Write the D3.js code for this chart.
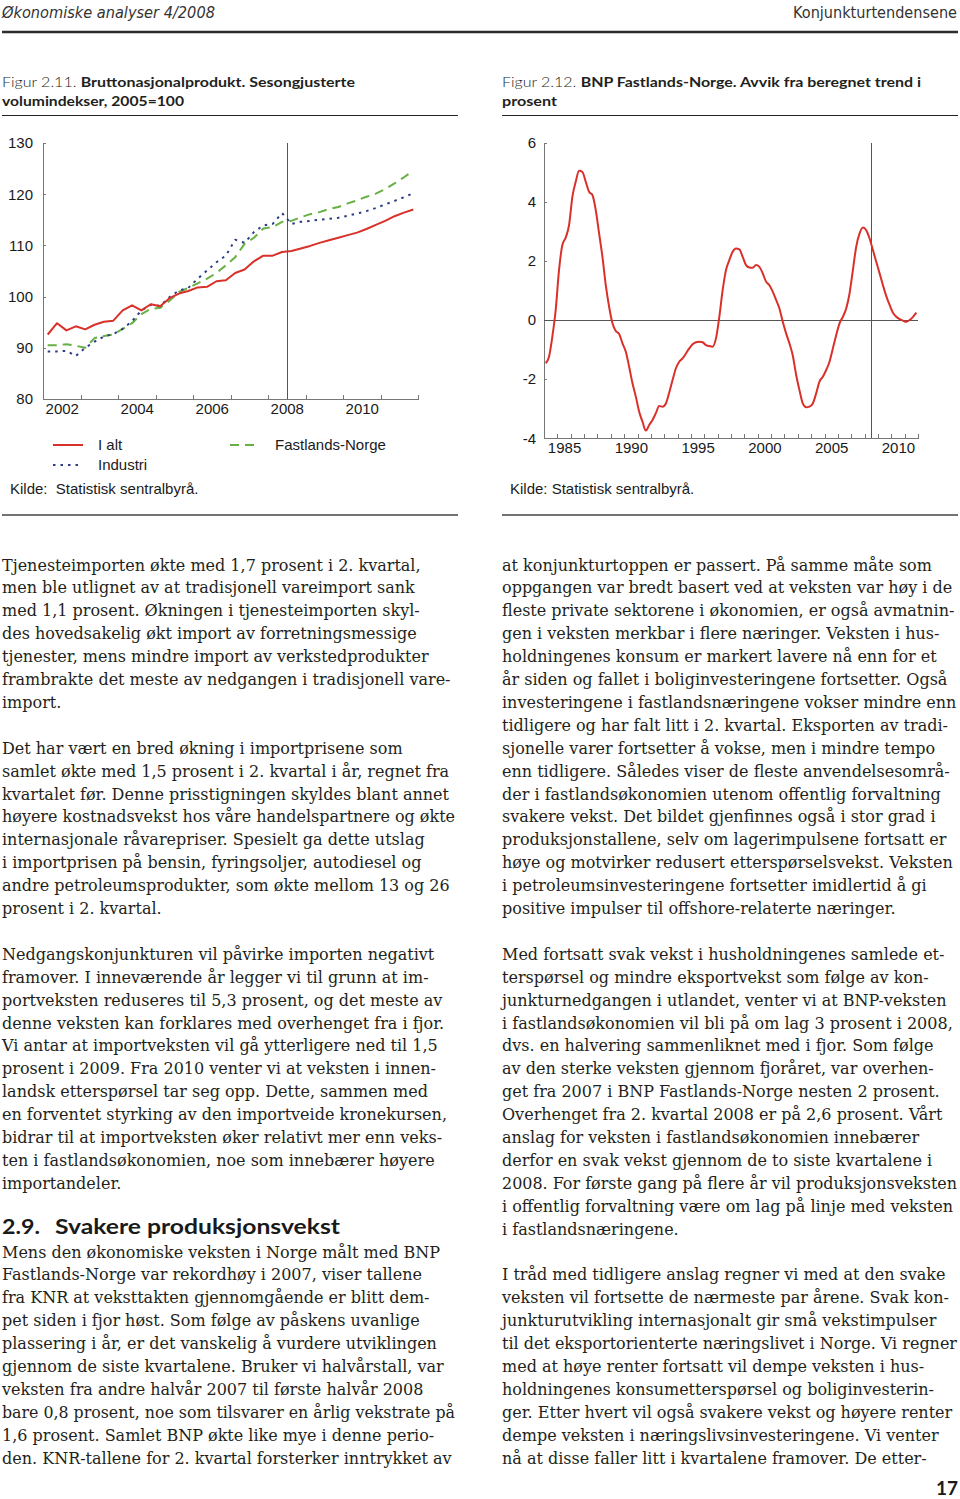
<!DOCTYPE html>
<html lang="no">
	<head>
		<meta charset="utf-8">
		<title>Konjunkturtendensene</title>
		<style>
			body {
				margin: 0;
				background: #fff;
			}

			.body-text {
				font-family: 'DejaVu Serif', serif;
				fill: #231f20;
			}

			.running-head {
				font-family: 'DejaVu Sans Condensed', 'Open Sans', sans-serif;
				font-size: 16px;
				fill: #333;
			}

			.fig-title {
				font-family: Lato, 'Open Sans', sans-serif;
				font-size: 14px;
				fill: #231f20;
			}

			.axis path,
			.axis line {
				stroke: #777;
				shape-rendering: crispEdges;
			}

			.axis text,
			.legend text,
			.source {
				font-family: 'Liberation Sans', Arial, sans-serif;
				font-size: 15px;
				fill: #1a1a1a;
			}

			.guide {
				stroke: #555;
				shape-rendering: crispEdges;
			}

			.series {
				fill: none;
				stroke-width: 2px;
				stroke-linejoin: round;
			}
		</style>
	</head>
	<body>
		<div id="page"></div>

		<script src="https://cdnjs.cloudflare.com/ajax/libs/d3/7.8.5/d3.min.js"></script>
		<script>
			// Figur 2.11 - quarterly volume indices, 2005=100, 2002K1-2011K4
			var indexStart = 2002;
			var indexAlt = [92.6, 94.8, 93.4, 94.2, 93.6, 94.5, 95.1, 95.3, 97.3, 98.3,
			                97.3, 98.5, 98.1, 99.7, 100.6, 101.1, 101.8, 101.9, 103.0, 103.2,
			                104.6, 105.3, 106.9, 108.0, 108.0, 108.7, 108.9, 109.4, 109.9, 110.5,
			                111.0, 111.5, 112.0, 112.5, 113.2, 114.0, 114.8, 115.7, 116.4, 117.0];
			var indexFastland = [90.5, 90.5, 90.7, 90.4, 90.0, 91.9, 92.3, 92.6, 93.7, 94.8,
			                     96.6, 97.6, 97.8, 99.2, 100.9, 101.7, 102.6, 103.5, 104.6, 106.1,
			                     107.7, 110.3, 111.5, 113.3, 113.6, 114.6, 114.8, 115.5, 116.1, 116.5,
			                     117.1, 117.5, 118.2, 118.8, 119.5, 120.1, 121.0, 122.1, 123.3, 124.6];
			var indexIndustri = [89.3, 89.3, 89.4, 88.4, 90.0, 91.2, 92.2, 92.7, 93.7, 95.2,
			                     97.3, 98.4, 98.2, 99.9, 101.2, 101.7, 103.5, 105.1, 106.7, 108.0,
			                     111.1, 110.5, 112.6, 113.9, 114.2, 116.3, 114.2, 114.6, 114.8, 115.0,
			                     115.2, 115.4, 115.8, 116.2, 116.7, 117.3, 118.0, 118.7, 119.4, 120.2];
			var indexTicks = [80, 90, 100, 110, 120, 130];
			var indexYearLabels = [2002, 2004, 2006, 2008, 2010];

			// Figur 2.12 - BNP Fastlands-Norge, deviation from trend in percent, 1984K1-2011K4
			var gapStart = 1984;
			var gapValues = [-1.46, -1.24, -0.56, 0.34, 1.69, 2.54, 2.79, 3.21, 4.17, 4.68,
			                 5.05, 5.01, 4.68, 4.34, 4.23, 3.72, 2.93, 2.14, 1.18, 0.45,
			                 -0.11, -0.37, -0.47, -0.79, -1.07, -1.58, -2.14, -2.59, -3.10, -3.44,
			                 -3.74, -3.55, -3.38, -3.15, -2.91, -2.93, -2.82, -2.45, -2.03, -1.63,
			                 -1.41, -1.30, -1.13, -0.96, -0.82, -0.75, -0.73, -0.75, -0.85, -0.88,
			                 -0.90, -0.62, 0.11, 1.01, 1.69, 2.03, 2.31, 2.42, 2.39, 2.14,
			                 1.86, 1.78, 1.77, 1.86, 1.80, 1.58, 1.30, 1.18, 0.96, 0.68,
			                 0.39, -0.06, -0.45, -0.79, -1.20, -1.85, -2.37, -2.82, -2.95, -2.93,
			                 -2.82, -2.48, -2.08, -1.92, -1.69, -1.41, -0.96, -0.51, -0.11, 0.11,
			                 0.39, 0.90, 1.69, 2.48, 2.93, 3.13, 3.04, 2.76, 2.37, 1.97,
			                 1.58, 1.18, 0.81, 0.51, 0.25, 0.11, 0.03, -0.02, -0.06, 0.00,
			                 0.11, 0.25];
			var gapTicks = [-4, -2, 0, 2, 4, 6];
			var gapYearLabels = [1985, 1990, 1995, 2000, 2005, 2010];

			var forecastFrom = 2008.5;

			// page text, one entry per printed line ('' = empty line)
			var col1Lines = [
				'Tjenesteimporten økte med 1,7 prosent i 2. kvartal,',
				'men ble utlignet av at tradisjonell vareimport sank',
				'med 1,1 prosent. Økningen i tjenesteimporten skyl-',
				'des hovedsakelig økt import av forretningsmessige',
				'tjenester, mens mindre import av verkstedprodukter',
				'frambrakte det meste av nedgangen i tradisjonell vare-',
				'import.',
				'',
				'Det har vært en bred økning i importprisene som',
				'samlet økte med 1,5 prosent i 2. kvartal i år, regnet fra',
				'kvartalet før. Denne prisstigningen skyldes blant annet',
				'høyere kostnadsvekst hos våre handelspartnere og økte',
				'internasjonale råvarepriser. Spesielt ga dette utslag',
				'i importprisen på bensin, fyringsoljer, autodiesel og',
				'andre petroleumsprodukter, som økte mellom 13 og 26',
				'prosent i 2. kvartal.',
				'',
				'Nedgangskonjunkturen vil påvirke importen negativt',
				'framover. I inneværende år legger vi til grunn at im-',
				'portveksten reduseres til 5,3 prosent, og det meste av',
				'denne veksten kan forklares med overhenget fra i fjor.',
				'Vi antar at importveksten vil gå ytterligere ned til 1,5',
				'prosent i 2009. Fra 2010 venter vi at veksten i innen-',
				'landsk etterspørsel tar seg opp. Dette, sammen med',
				'en forventet styrking av den importveide kronekursen,',
				'bidrar til at importveksten øker relativt mer enn veks-',
				'ten i fastlandsøkonomien, noe som innebærer høyere',
				'importandeler.',
				'',
				'',
				'Mens den økonomiske veksten i Norge målt med BNP',
				'Fastlands-Norge var rekordhøy i 2007, viser tallene',
				'fra KNR at veksttakten gjennomgående er blitt dem-',
				'pet siden i fjor høst. Som følge av påskens uvanlige',
				'plassering i år, er det vanskelig å vurdere utviklingen',
				'gjennom de siste kvartalene. Bruker vi halvårstall, var',
				'veksten fra andre halvår 2007 til første halvår 2008',
				'bare 0,8 prosent, noe som tilsvarer en årlig vekstrate på',
				'1,6 prosent. Samlet BNP økte like mye i denne perio-',
				'den. KNR-tallene for 2. kvartal forsterker inntrykket av'
			];
			var col2Lines = [
				'at konjunkturtoppen er passert. På samme måte som',
				'oppgangen var bredt basert ved at veksten var høy i de',
				'fleste private sektorene i økonomien, er også avmatnin-',
				'gen i veksten merkbar i flere næringer. Veksten i hus-',
				'holdningenes konsum er markert lavere nå enn for et',
				'år siden og fallet i boliginvesteringene fortsetter. Også',
				'investeringene i fastlandsnæringene vokser mindre enn',
				'tidligere og har falt litt i 2. kvartal. Eksporten av tradi-',
				'sjonelle varer fortsetter å vokse, men i mindre tempo',
				'enn tidligere. Således viser de fleste anvendelsesområ-',
				'der i fastlandsøkonomien utenom offentlig forvaltning',
				'svakere vekst. Det bildet gjenfinnes også i stor grad i',
				'produksjonstallene, selv om lagerimpulsene fortsatt er',
				'høye og motvirker redusert etterspørselsvekst. Veksten',
				'i petroleumsinvesteringene fortsetter imidlertid å gi',
				'positive impulser til offshore-relaterte næringer.',
				'',
				'Med fortsatt svak vekst i husholdningenes samlede et-',
				'terspørsel og mindre eksportvekst som følge av kon-',
				'junkturnedgangen i utlandet, venter vi at BNP-veksten',
				'i fastlandsøkonomien vil bli på om lag 3 prosent i 2008,',
				'dvs. en halvering sammenliknet med i fjor. Som følge',
				'av den sterke veksten gjennom fjoråret, var overhen-',
				'get fra 2007 i BNP Fastlands-Norge nesten 2 prosent.',
				'Overhenget fra 2. kvartal 2008 er på 2,6 prosent. Vårt',
				'anslag for veksten i fastlandsøkonomien innebærer',
				'derfor en svak vekst gjennom de to siste kvartalene i',
				'2008. For første gang på flere år vil produksjonsveksten',
				'i offentlig forvaltning være om lag på linje med veksten',
				'i fastlandsnæringene.',
				'',
				'I tråd med tidligere anslag regner vi med at den svake',
				'veksten vil fortsette de nærmeste par årene. Svak kon-',
				'junkturutvikling internasjonalt gir små vekstimpulser',
				'til det eksportorienterte næringslivet i Norge. Vi regner',
				'med at høye renter fortsatt vil dempe veksten i hus-',
				'holdningenes konsumetterspørsel og boliginvesterin-',
				'ger. Etter hvert vil også svakere vekst og høyere renter',
				'dempe veksten i næringslivsinvesteringene. Vi venter',
				'nå at disse faller litt i kvartalene framover. De etter-'
			];

			var width = 960,
			    height = 1499,
			    red = '#d9312a',
			    green = '#67b044',
			    navy = '#2c3c85';

			var svg = d3.select('#page')
			            .append('svg')
			            .attr('width', width)
			            .attr('height', height);

			svg.append('rect')
			   .attr('width', width)
			   .attr('height', height)
			   .attr('fill', '#fff');

			function quarterYear(start, i) {
				return start + (i + 0.5) / 4;
			}

			function fitText(sel, len) {
				sel.attr('textLength', len).attr('lengthAdjust', 'spacingAndGlyphs');
			}

			// scale the font so the natural width matches the printed one
			function fitSize(sel, len) {
				var size = parseFloat(sel.style('font-size'));
				var w = sel.node().getComputedTextLength();
				sel.style('font-size', (size * len / w) + 'px');
			}

			// running head
			svg.append('text')
			   .classed('running-head', true)
			   .attr('x', 2).attr('y', 18)
			   .style('font-style', 'italic')
			   .text('Økonomiske analyser 4/2008')
			   .call(fitSize, 213);

			svg.append('text')
			   .classed('running-head', true)
			   .attr('x', 957).attr('y', 18)
			   .attr('text-anchor', 'end')
			   .text('Konjunkturtendensene')
			   .call(fitSize, 164);

			svg.append('line')
			   .attr('x1', 2).attr('x2', 958)
			   .attr('y1', 32).attr('y2', 32)
			   .attr('stroke', '#2a2a2a')
			   .attr('stroke-width', 2.5);

			// figure titles and rules
			function figureFrame(x0, num, line1, line2, len1, len2) {
				var t1 = svg.append('text')
				            .classed('fig-title', true)
				            .attr('x', x0).attr('y', 87);
				t1.append('tspan').style('font-weight', 300).text('Figur ' + num + ' ');
				t1.append('tspan').style('font-weight', 700).text(line1);
				t1.call(fitText, len1);

				svg.append('text')
				   .classed('fig-title', true)
				   .attr('x', x0).attr('y', 106)
				   .style('font-weight', 700)
				   .text(line2)
				   .call(fitText, len2);

				svg.append('line')
				   .attr('x1', x0).attr('x2', x0 + 456)
				   .attr('y1', 115.5).attr('y2', 115.5)
				   .attr('stroke', '#222');

				svg.append('line')
				   .attr('x1', x0).attr('x2', x0 + 456)
				   .attr('y1', 515).attr('y2', 515)
				   .attr('stroke', '#444')
				   .attr('stroke-width', 1.5);
			}

			figureFrame(2, '2.11.', 'Bruttonasjonalprodukt. Sesongjusterte', 'volumindekser, 2005=100', 353, 182);
			figureFrame(502, '2.12.', 'BNP Fastlands-Norge. Avvik fra beregnet trend i', 'prosent', 419, 55);

			// shared axis drawing
			function drawAxes(g, x, y, yTicks, yearLabels, labelPad) {
				var x0 = x.domain()[0], x1 = x.domain()[1];

				g.append('g')
				 .classed('axis', true)
				 .attr('transform', 'translate(0,' + y.range()[0] + ')')
				 .call(d3.axisBottom(x)
				         .tickValues(d3.range(x0, x1 + 1))
				         .tickSize(-4)
				         .tickSizeOuter(0)
				         .tickFormat(''));

				var lab = g.append('g')
				           .classed('axis', true)
				           .attr('transform', 'translate(0,' + y.range()[0] + ')')
				           .call(d3.axisBottom(x)
				                   .tickValues(yearLabels.map(function(d) { return d + 0.5; }))
				                   .tickSize(0)
				                   .tickPadding(4)
				                   .tickFormat(function(d) { return Math.floor(d); }));
				lab.select('.domain').remove();

				g.append('g')
				 .classed('axis', true)
				 .attr('transform', 'translate(' + x(x0) + ',0)')
				 .call(d3.axisLeft(y)
				         .tickValues(yTicks)
				         .tickSize(-3)
				         .tickSizeOuter(0)
				         .tickPadding(labelPad)
				         .tickFormat(function(d) { return String(d); }));

				g.append('line')
				 .classed('guide', true)
				 .attr('x1', Math.round(x(forecastFrom)) + 0.5)
				 .attr('x2', Math.round(x(forecastFrom)) + 0.5)
				 .attr('y1', y.range()[1])
				 .attr('y2', y.range()[0]);
			}

			// ---- Figur 2.11 ----
			var xIdx = d3.scaleLinear().domain([2002, 2012]).range([43, 418]),
			    yIdx = d3.scaleLinear().domain([80, 130]).range([399, 143]);

			var left = svg.append('g');
			drawAxes(left, xIdx, yIdx, indexTicks, indexYearLabels, 10);

			var idxLine = d3.line()
			                .x(function(d, i) { return xIdx(quarterYear(indexStart, i)); })
			                .y(function(d) { return yIdx(d); });

			var idxSeries = [
				{ name: 'I alt', values: indexAlt, color: red, dash: null },
				{ name: 'Industri', values: indexIndustri, color: navy, dash: '2.5,5' },
				{ name: 'Fastlands-Norge', values: indexFastland, color: green, dash: '9,6' }
			];

			left.selectAll('.series')
			    .data(idxSeries.slice().reverse())
			    .enter()
			        .append('path')
			        .classed('series', true)
			        .attr('d', function(d) { return idxLine(d.values); })
			        .attr('stroke', function(d) { return d.color; })
			        .attr('stroke-dasharray', function(d) { return d.dash; });

			var legendPos = [[53, 445], [53, 465], [230, 445]];
			var legend = left.append('g').classed('legend', true)
			                 .selectAll('g')
			                 .data(idxSeries)
			                 .enter()
			                     .append('g')
			                     .attr('transform', function(d, i) {
			                         return 'translate(' + legendPos[i][0] + ',' + legendPos[i][1] + ')';
			                     });

			legend.append('line')
			      .attr('x1', 0)
			      .attr('x2', function(d, i) { return i === 2 ? 26 : 30; })
			      .attr('stroke', function(d) { return d.color; })
			      .attr('stroke-width', 2)
			      .attr('stroke-dasharray', function(d) { return d.dash; });

			legend.append('text')
			      .attr('x', 45)
			      .attr('dy', '0.35em')
			      .text(function(d) { return d.name; });

			svg.append('text')
			   .classed('source', true)
			   .attr('x', 10).attr('y', 494)
			   .attr('xml:space', 'preserve')
			   .text('Kilde:  Statistisk sentralbyrå.');

			// ---- Figur 2.12 ----
			var xGap = d3.scaleLinear().domain([1984, 2012]).range([544, 918]),
			    yGap = d3.scaleLinear().domain([-4, 6]).range([438.3, 142.7]);

			var right = svg.append('g');
			drawAxes(right, xGap, yGap, gapTicks, gapYearLabels, 8);

			right.append('line')
			     .classed('guide', true)
			     .attr('x1', xGap(1984)).attr('x2', xGap(2012))
			     .attr('y1', Math.round(yGap(0)) + 0.5)
			     .attr('y2', Math.round(yGap(0)) + 0.5);

			right.append('path')
			     .classed('series', true)
			     .attr('stroke', red)
			     .attr('d', d3.line()
			                  .x(function(d, i) { return xGap(quarterYear(gapStart, i)); })
			                  .y(function(d) { return yGap(d); })
			                  .curve(d3.curveMonotoneX)(gapValues));

			svg.append('text')
			   .classed('source', true)
			   .attr('x', 510).attr('y', 494)
			   .text('Kilde: Statistisk sentralbyrå.');

			// ---- body text ----
			var bodySize = 16;
			var probe = svg.append('text')
			               .classed('body-text', true)
			               .style('font-size', bodySize + 'px')
			               .text(col1Lines[0]);
			bodySize = bodySize * 419 / probe.node().getComputedTextLength();
			probe.remove();

			var lineStep = 22.9,
			    firstBase = 570.5;

			function drawColumn(lines, x0, maxW) {
				svg.append('g')
				   .selectAll('text')
				   .data(lines)
				   .enter()
				       .append('text')
				       .classed('body-text', true)
				       .attr('x', x0)
				       .attr('y', function(d, i) { return firstBase + i * lineStep; })
				       .style('font-size', bodySize + 'px')
				       .text(function(d) { return d; })
				       .each(function() {
				           if (this.getComputedTextLength() > maxW) {
				               d3.select(this).call(fitText, maxW);
				           }
				       });
			}

			drawColumn(col1Lines, 2, 453);
			drawColumn(col2Lines, 502, 455);

			// section heading
			svg.append('text')
			   .attr('x', 2).attr('y', firstBase + 29 * lineStep - 1)
			   .style('font-family', 'Lato, sans-serif')
			   .style('font-weight', 700)
			   .style('font-size', '21px')
			   .style('fill', '#1a1a1a')
			   .text('2.9.')
			   .call(fitText, 38);

			svg.append('text')
			   .attr('x', 55).attr('y', firstBase + 29 * lineStep - 1)
			   .style('font-family', 'Lato, sans-serif')
			   .style('font-weight', 700)
			   .style('font-size', '21px')
			   .style('fill', '#1a1a1a')
			   .text('Svakere produksjonsvekst')
			   .call(fitText, 285);

			// folio
			svg.append('text')
			   .attr('x', 958).attr('y', 1495)
			   .attr('text-anchor', 'end')
			   .style('font-family', 'Lato, sans-serif')
			   .style('font-weight', 700)
			   .style('font-size', '19px')
			   .style('fill', '#1a1a1a')
			   .text('17');
		</script>
	</body>
</html>
